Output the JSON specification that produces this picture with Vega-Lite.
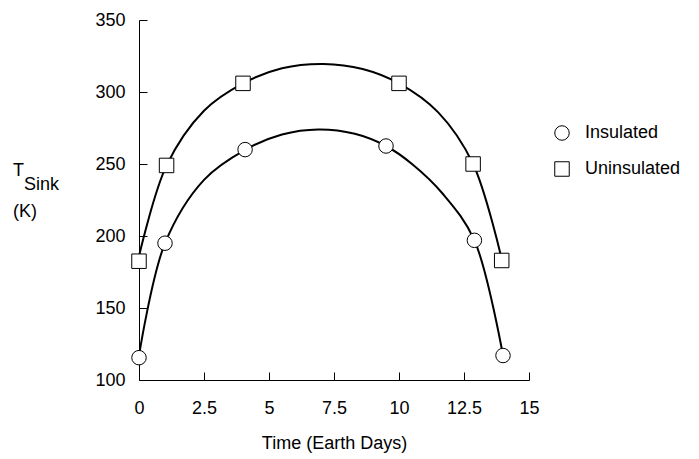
{
  "$schema": "https://vega.github.io/schema/vega-lite/v6.json",
  "width": 390,
  "height": 360,
  "autosize": "none",
  "padding": {"left": 139, "top": 20, "right": 170, "bottom": 79},
  "background": "white",
  "config": {
    "view": {"stroke": null},
    "font": "Liberation Sans",
    "axis": {
      "grid": false,
      "domainColor": "black",
      "domainWidth": 1,
      "tickColor": "black",
      "tickWidth": 1,
      "tickSize": -8,
      "labelColor": "black",
      "labelFontSize": 18,
      "labelFont": "Liberation Sans",
      "labelFlush": false,
      "labelOverlap": false,
      "titleColor": "black",
      "titleFontSize": 18,
      "titleFont": "Liberation Sans",
      "titleFontWeight": "normal"
    },
    "legend": {
      "labelFont": "Liberation Sans"
    }
  },
  "datasets": {
    "curves": [
      {"series": "Uninsulated", "t": 0, "temp": 186},
      {"series": "Uninsulated", "t": 1.06, "temp": 249},
      {"series": "Uninsulated", "t": 2.5, "temp": 287},
      {"series": "Uninsulated", "t": 4.0, "temp": 306},
      {"series": "Uninsulated", "t": 5.5, "temp": 316.5},
      {"series": "Uninsulated", "t": 7.1, "temp": 319.5},
      {"series": "Uninsulated", "t": 8.6, "temp": 316},
      {"series": "Uninsulated", "t": 10.0, "temp": 306},
      {"series": "Uninsulated", "t": 11.5, "temp": 286},
      {"series": "Uninsulated", "t": 12.85, "temp": 250},
      {"series": "Uninsulated", "t": 13.95, "temp": 184},
      {"series": "Insulated", "t": 0, "temp": 117},
      {"series": "Insulated", "t": 1.0, "temp": 195},
      {"series": "Insulated", "t": 2.5, "temp": 239},
      {"series": "Insulated", "t": 4.1, "temp": 260},
      {"series": "Insulated", "t": 5.5, "temp": 270.5},
      {"series": "Insulated", "t": 6.9, "temp": 274},
      {"series": "Insulated", "t": 8.3, "temp": 271},
      {"series": "Insulated", "t": 9.5, "temp": 262.5},
      {"series": "Insulated", "t": 10.5, "temp": 250},
      {"series": "Insulated", "t": 11.7, "temp": 229},
      {"series": "Insulated", "t": 12.9, "temp": 197},
      {"series": "Insulated", "t": 14.0, "temp": 117}
    ],
    "points": [
      {"series": "Insulated", "t": 0, "temp": 115.5},
      {"series": "Insulated", "t": 1.0, "temp": 195},
      {"series": "Insulated", "t": 4.08, "temp": 260},
      {"series": "Insulated", "t": 9.5, "temp": 262.5},
      {"series": "Insulated", "t": 12.9, "temp": 197},
      {"series": "Insulated", "t": 14.0, "temp": 117},
      {"series": "Uninsulated", "t": 0, "temp": 182.5},
      {"series": "Uninsulated", "t": 1.06, "temp": 249},
      {"series": "Uninsulated", "t": 4.0, "temp": 306},
      {"series": "Uninsulated", "t": 10.0, "temp": 306},
      {"series": "Uninsulated", "t": 12.85, "temp": 250},
      {"series": "Uninsulated", "t": 13.95, "temp": 183}
    ]
  },
  "resolve": {"scale": {"shape": "independent"}, "legend": {"shape": "independent"}},
  "layer": [
    {
      "data": {"name": "curves"},
      "mark": {"type": "line", "interpolate": "catmull-rom", "color": "black", "strokeWidth": 2, "clip": false},
      "encoding": {
        "x": {
          "field": "t", "type": "quantitative",
          "scale": {"domain": [0, 15], "nice": false, "zero": false},
          "axis": {
            "title": "Time (Earth Days)",
            "values": [0, 2.5, 5, 7.5, 10, 12.5, 15],
            "format": ".3~g",
            "labelPadding": 27,
            "titleBaseline": "alphabetic",
            "titleY": 68
          }
        },
        "y": {
          "field": "temp", "type": "quantitative",
          "scale": {"domain": [100, 350], "nice": false, "zero": false},
          "axis": {
            "title": null,
            "values": [100, 150, 200, 250, 300, 350],
            "labelPadding": 22
          }
        },
        "detail": {"field": "series", "type": "nominal"}
      }
    },
    {
      "data": {"name": "points"},
      "mark": {"type": "point", "filled": true, "color": "white", "strokeWidth": 0, "size": 210, "opacity": 1, "clip": false},
      "encoding": {
        "x": {"field": "t", "type": "quantitative"},
        "y": {"field": "temp", "type": "quantitative"},
        "shape": {
          "field": "series", "type": "nominal",
          "scale": {"domain": ["Insulated", "Uninsulated"], "range": ["circle", "square"]},
          "legend": null
        }
      }
    },
    {
      "data": {"name": "points"},
      "mark": {"type": "point", "filled": false, "color": "black", "strokeWidth": 1, "size": 210, "opacity": 1, "clip": false},
      "encoding": {
        "x": {"field": "t", "type": "quantitative"},
        "y": {"field": "temp", "type": "quantitative"},
        "shape": {
          "field": "series", "type": "nominal",
          "scale": {"domain": ["Insulated", "Uninsulated"], "range": ["circle", "square"]},
          "legend": {
            "title": null,
            "orient": "none",
            "legendX": 414,
            "legendY": 104,
            "padding": 0,
            "labelFontSize": 18,
            "labelColor": "black",
            "symbolSize": 210,
            "symbolStrokeColor": "black",
            "symbolStrokeWidth": 1,
            "rowPadding": 16,
            "labelOffset": 14
          }
        }
      }
    },
    {
      "data": {"values": [{}]},
      "mark": {"type": "text", "text": "T", "align": "left", "baseline": "alphabetic", "fontSize": 18, "font": "Liberation Sans", "color": "black", "clip": false},
      "encoding": {"x": {"datum": -4.85}, "y": {"datum": 241.7}}
    },
    {
      "data": {"values": [{}]},
      "mark": {"type": "text", "text": "Sink", "align": "left", "baseline": "alphabetic", "fontSize": 18, "font": "Liberation Sans", "color": "black", "clip": false},
      "encoding": {"x": {"datum": -4.42}, "y": {"datum": 231.9}}
    },
    {
      "data": {"values": [{}]},
      "mark": {"type": "text", "text": "(K)", "align": "left", "baseline": "alphabetic", "fontSize": 18, "font": "Liberation Sans", "color": "black", "clip": false},
      "encoding": {"x": {"datum": -4.85}, "y": {"datum": 213.2}}
    }
  ]
}
